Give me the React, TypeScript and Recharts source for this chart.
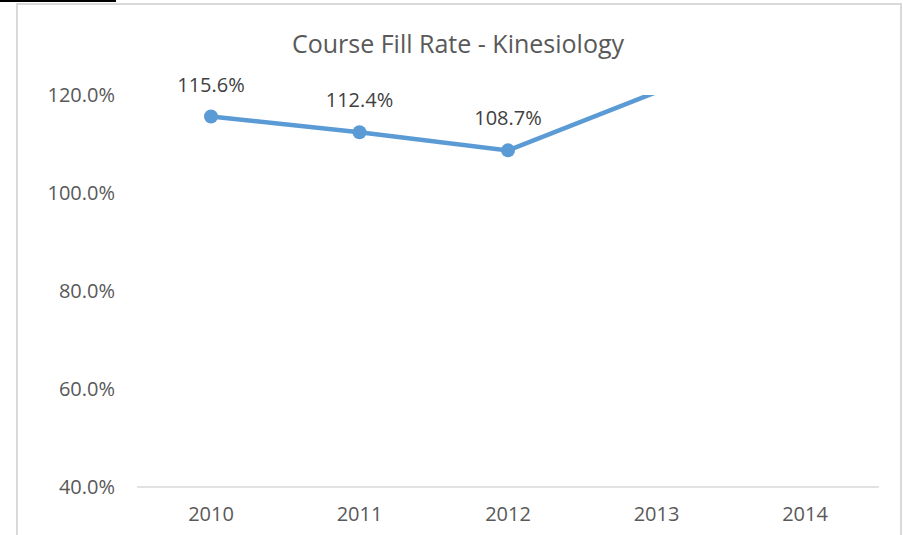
import { LineChart, Line, XAxis, YAxis, LabelList } from "recharts"

const years = ["2010", "2011", "2012", "2013", "2014"]
const fillRate: (number | null)[] = [115.6, 112.4, 108.7, 120.6, null]
const yTicks = [40, 60, 80, 100, 120]
const yMax = yTicks[yTicks.length - 1]

const data = years.map((year, i) => ({ year, rate: fillRate[i] }))

const FONT = "'Open Sans', sans-serif"
const BLUE = "#5B9BD5"

const renderLabel = (props: any) => {
  const { x, y, value } = props
  if (value == null || value > yMax) return null
  return (
    <text x={x} y={y - 25} textAnchor="middle" fill="#404040" fontSize={20} fontFamily={FONT}>
      {value.toFixed(1)}%
    </text>
  )
}

const renderDot = (props: any) => {
  const { cx, cy, value, index } = props
  if (value == null || value > yMax) return <g key={index} />
  return <circle key={index} cx={cx} cy={cy} r={7} fill={BLUE} />
}

export default function App() {
  return (
    <div style={{ position: "absolute", left: 0, top: 0, width: 903, height: 535, background: "#fff", overflow: "hidden" }}>
      <div style={{ position: "absolute", left: 0, top: 0, width: 116, height: 2, background: "#000" }} />
      <div
        style={{
          position: "absolute",
          left: 16,
          top: 3,
          width: 886,
          height: 600,
          border: "2px solid #d9d9d9",
          boxSizing: "border-box",
        }}
      />
      <div
        style={{
          position: "absolute",
          left: 16,
          width: 884,
          top: 26,
          textAlign: "center",
          fontFamily: FONT,
          fontSize: 25,
          color: "#595959",
        }}
      >
        Course Fill Rate - Kinesiology
      </div>
      <div style={{ position: "absolute", left: 0, top: 0 }}>
        <LineChart width={903} height={535} data={data} margin={{ top: 95, right: 24, bottom: 0, left: 0 }}>
          <XAxis
            dataKey="year"
            axisLine={{ stroke: "#d9d9d9", strokeWidth: 1.5 }}
            tickLine={false}
            tickMargin={14}
            height={48}
            padding={{ left: 74, right: 74 }}
            tick={{ fill: "#595959", fontSize: 20, fontFamily: FONT }}
          />
          <YAxis
            width={137}
            domain={[40, yMax]}
            ticks={yTicks}
            allowDataOverflow
            axisLine={false}
            tickLine={false}
            tickMargin={16}
            tickFormatter={(v: number) => v.toFixed(1) + "%"}
            tick={{ fill: "#595959", fontSize: 20, fontFamily: FONT }}
          />
          <Line
            type="linear"
            dataKey="rate"
            stroke={BLUE}
            strokeWidth={4.5}
            dot={renderDot}
            activeDot={false}
            isAnimationActive={false}
          >
            <LabelList dataKey="rate" content={renderLabel} />
          </Line>
        </LineChart>
      </div>
    </div>
  )
}
